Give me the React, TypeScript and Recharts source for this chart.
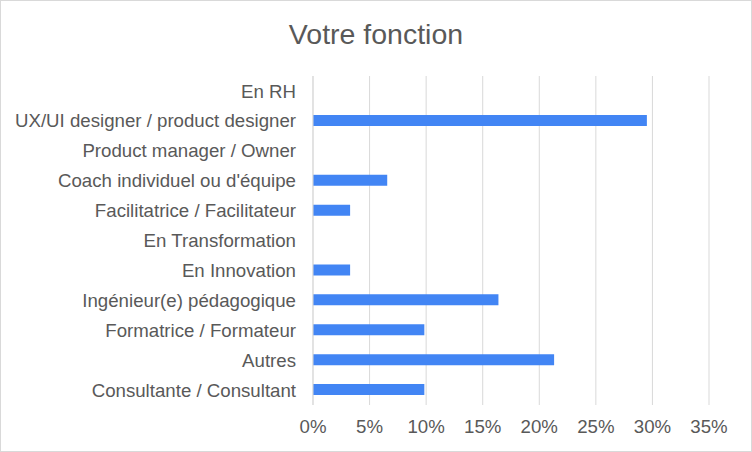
import { BarChart, Bar, XAxis, YAxis, CartesianGrid } from "recharts";

const categories = [
  "En RH",
  "UX/UI designer / product designer",
  "Product manager / Owner",
  "Coach individuel ou d'équipe",
  "Facilitatrice / Facilitateur",
  "En Transformation",
  "En Innovation",
  "Ingénieur(e) pédagogique",
  "Formatrice / Formateur",
  "Autres",
  "Consultante / Consultant",
];
const percents = [0, 29.51, 0, 6.56, 3.28, 0, 3.28, 16.39, 9.84, 21.31, 9.84];
const xTicks = [0, 5, 10, 15, 20, 25, 30, 35];

const FONT = "'Liberation Sans', Arial, sans-serif";
const TEXT = "#595959";
const GRID = "#d9d9d9";

export default function App() {
  const data = categories.map((name, i) => ({ name, value: percents[i] }));
  return (
    <div style={{ position: "absolute", left: 0, top: 0, width: 752, height: 452, background: "#fff", fontFamily: FONT }}>
      <div style={{ position: "absolute", left: 0, right: 0, top: 18, textAlign: "center", fontSize: 28.5, color: TEXT }}>
        Votre fonction
      </div>
      <BarChart
        width={752}
        height={452}
        data={data}
        layout="vertical"
        margin={{ top: 76, right: 43, bottom: 0, left: 0 }}
      >
        <CartesianGrid horizontal={false} stroke={GRID} />
        <XAxis
          type="number"
          domain={[0, 35]}
          ticks={xTicks}
          interval={0}
          tickFormatter={(v) => `${v}%`}
          axisLine={false}
          tickLine={false}
          tickMargin={9}
          height={47}
          tick={{ fill: TEXT, fontSize: 18.67, fontFamily: FONT }}
        />
        <YAxis
          type="category"
          dataKey="name"
          width={313}
          interval={0}
          axisLine={{ stroke: GRID }}
          tickLine={false}
          tickMargin={11}
          tick={{ fill: TEXT, fontSize: 18.67, fontFamily: FONT }}
        />
        <Bar dataKey="value" fill="#4285F4" barSize={11} isAnimationActive={false} />
      </BarChart>
      <div style={{ position: "absolute", inset: 0, border: `1px solid ${GRID}`, pointerEvents: "none" }} />
    </div>
  );
}
